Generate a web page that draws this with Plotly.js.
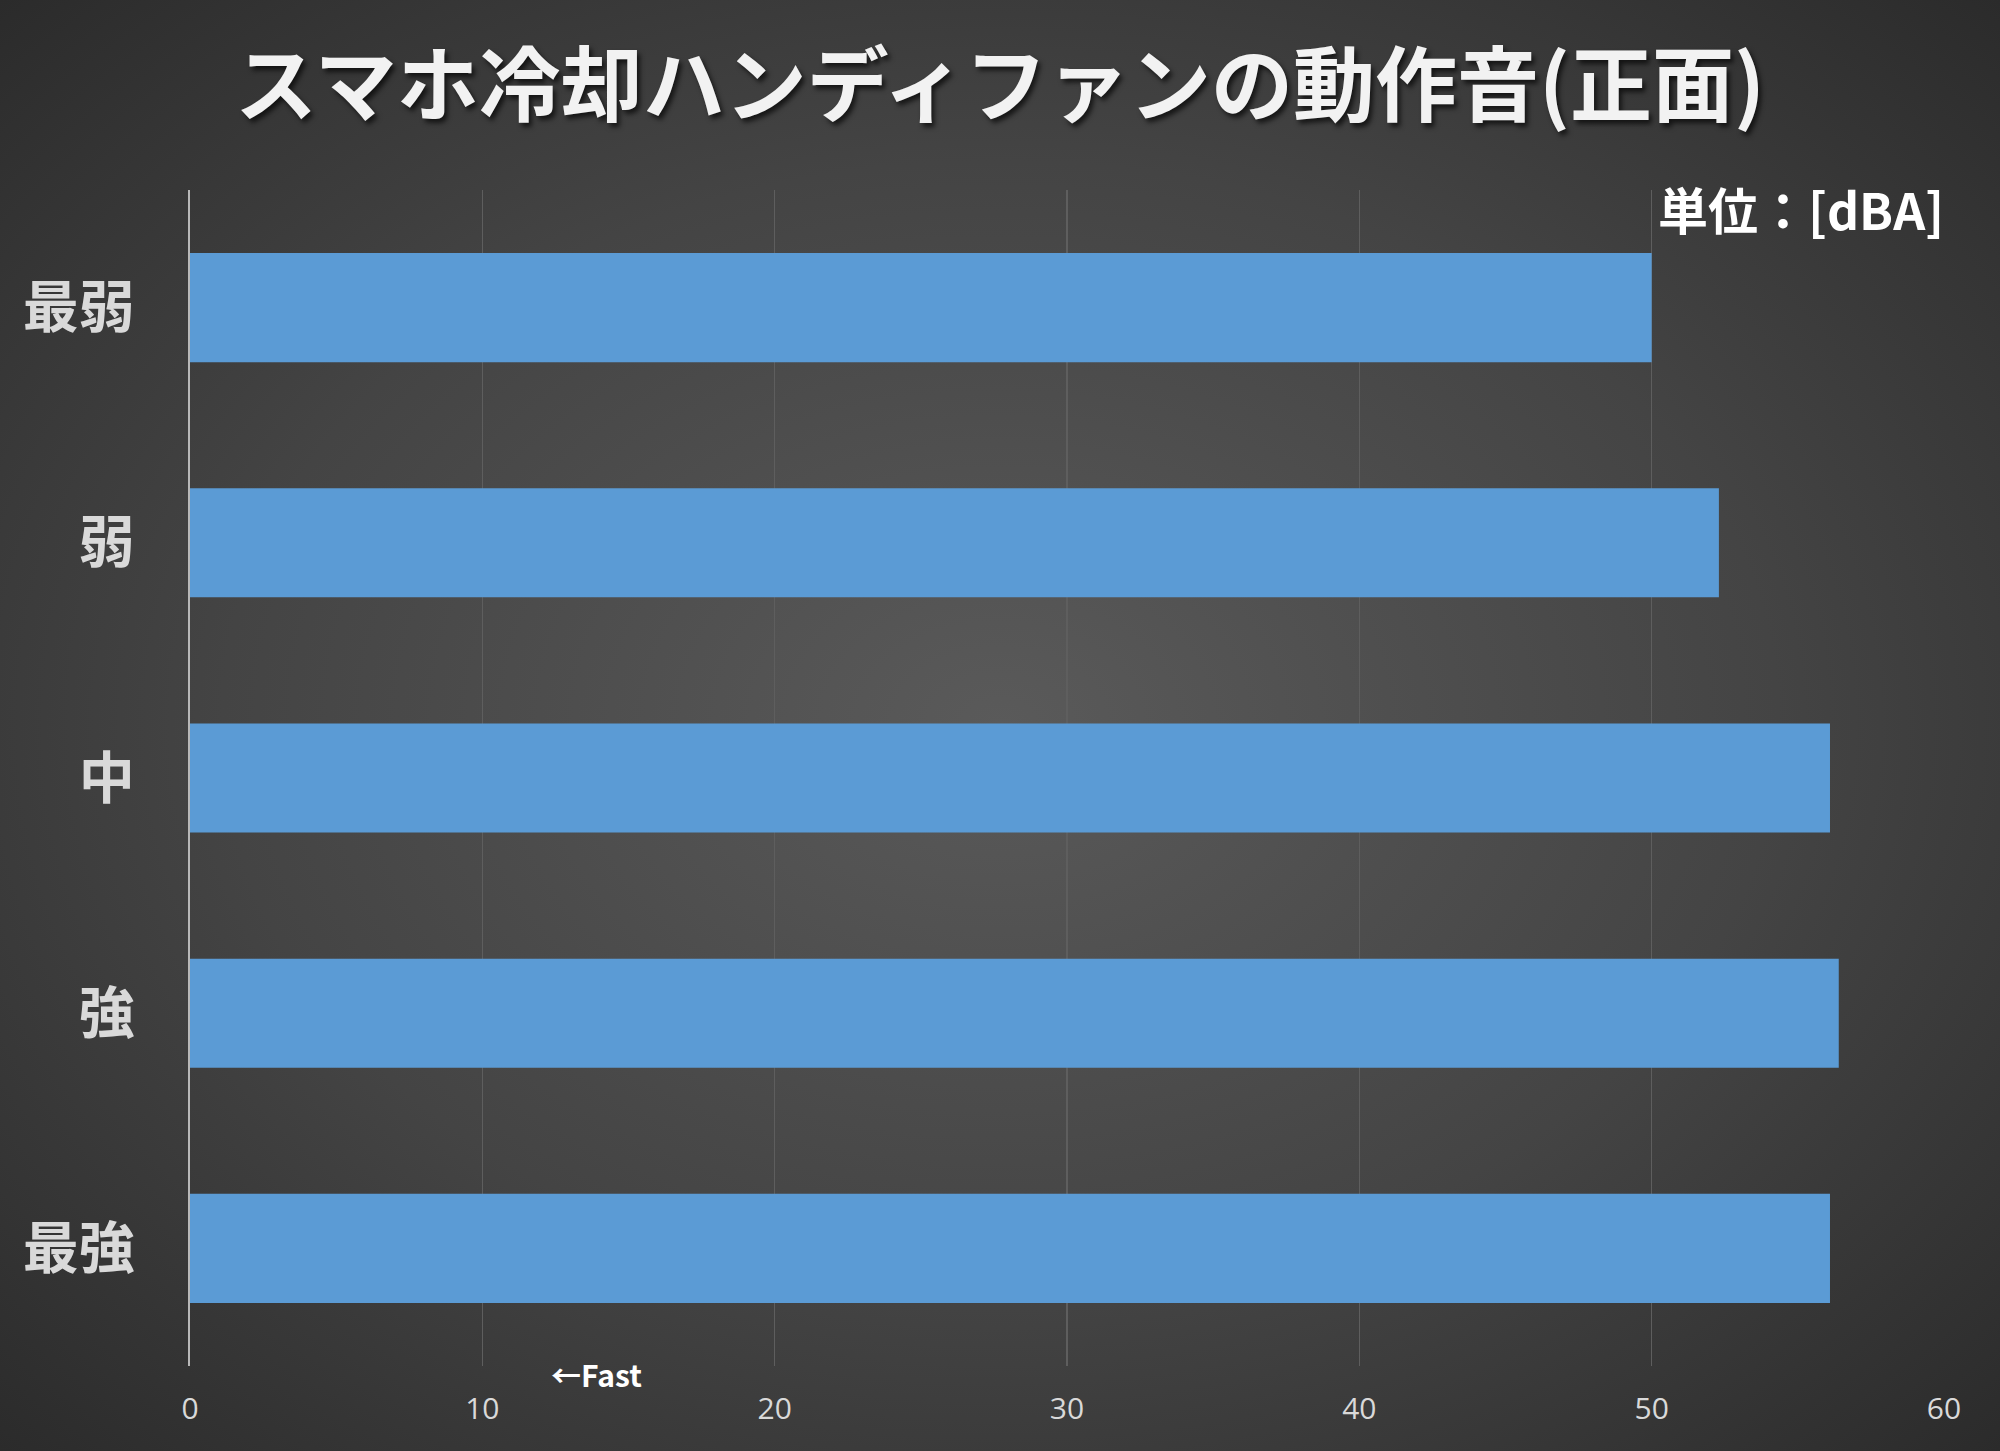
<!DOCTYPE html>
<html>
<head>
<meta charset="utf-8">
<script src="https://cdn.plot.ly/plotly-3.0.1.min.js"></script>
<style>
  html, body { margin: 0; padding: 0; }
  #chart {
    width: 2000px; height: 1451px;
    background: radial-gradient(ellipse farthest-corner at 50% 50%, #5a5a5a 0%, #444 55%, #2b2b2b 100%);
  }
</style>
</head>
<body>
<div id="chart"></div>
<script>
// fan speed settings, top to bottom
const levels = ['最弱', '弱', '中', '強', '最強'];
// measured noise, dBA
const noiseDbA = [50.0, 52.3, 56.1, 56.4, 56.1];
const xTicks = [0, 10, 20, 30, 40, 50, 60];

const jp = '"Noto Sans CJK JP", "Noto Sans", sans-serif';

const traces = [{
    type: 'bar',
    orientation: 'h',
    x: noiseDbA,
    y: levels,
    marker: { color: '#5b9bd5' },
    hoverinfo: 'x+y'
}];

const layout = {
    width: 2000,
    height: 1451,
    margin: { l: 190, r: 56, t: 190, b: 85 },
    paper_bgcolor: 'rgba(0,0,0,0)',
    plot_bgcolor: 'rgba(0,0,0,0)',
    showlegend: false,
    bargap: 0.536,
    title: {
        text: 'スマホ冷却ハンディファンの動作音(正面)',
        x: 0.5,
        xanchor: 'center',
        y: 1 - 86 / 1451,
        yref: 'container',
        yanchor: 'middle',
        font: { family: jp, size: 82, color: '#f2f2f2', weight: 'bold', shadow: '3px 4px 5px rgba(0,0,0,0.65)' }
    },
    xaxis: {
        range: [0, 60],
        tickvals: xTicks,
        ticktext: xTicks.map(String),
        showgrid: true,
        gridcolor: '#5e5e5e',
        gridwidth: 1.3,
        zeroline: false,
        showline: false,
        ticks: '',
        ticklabelstandoff: 22,
        tickfont: { family: '"Open Sans", "Noto Sans", sans-serif', size: 30, color: '#d9d9d9' },
        fixedrange: true
    },
    yaxis: {
        autorange: 'reversed',
        showgrid: false,
        zeroline: false,
        showline: true,
        linecolor: '#b8b8b8',
        linewidth: 2,
        ticks: '',
        ticklabelstandoff: 42,
        tickfont: { family: jp, size: 56, color: '#d9d9d9', weight: 'bold' },
        fixedrange: true
    },
    annotations: [
        {
            xref: 'paper', yref: 'paper',
            x: (1946 - 190) / 1754, xanchor: 'right',
            y: (1366 - 208) / 1176, yanchor: 'middle',
            text: '単位：[dBA]',
            showarrow: false,
            font: { family: jp, size: 50, color: '#ffffff', weight: 'bold' }
        },
        {
            xref: 'paper', yref: 'paper',
            x: (596 - 190) / 1754, xanchor: 'center',
            y: (1366 - 1374) / 1176, yanchor: 'middle',
            text: '←Fast',
            showarrow: false,
            font: { family: jp, size: 30, color: '#ffffff', weight: 'bold' }
        }
    ]
};

Plotly.newPlot('chart', traces, layout, { displayModeBar: false, staticPlot: true });
</script>
</body>
</html>
